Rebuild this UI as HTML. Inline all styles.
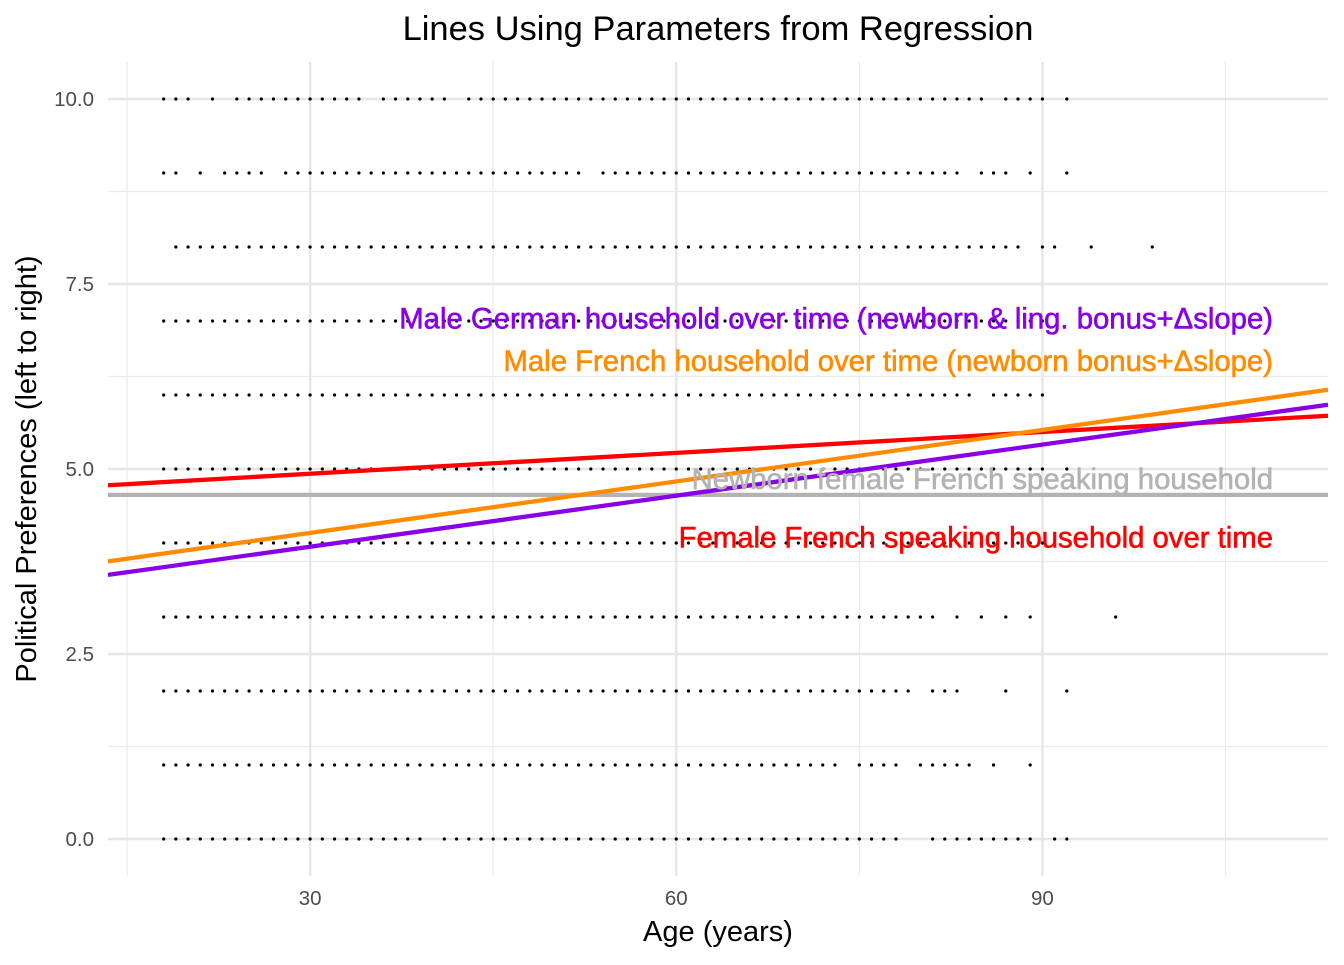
<!DOCTYPE html>
<html><head><meta charset="utf-8"><style>
body{margin:0;background:#fff}
svg text{font-family:"Liberation Sans",Arial,sans-serif}
</style></head><body>
<svg id="chart" width="1344" height="960" viewBox="0 0 1344 960" xmlns="http://www.w3.org/2000/svg">
<text x="718" y="40" text-anchor="middle" font-size="34.5" fill="#000">Lines Using Parameters from Regression</text>
<g id="grid"></g>
<g id="dots"></g>
<g id="lines"></g>
<g id="labels"></g>
<g id="axes"></g>
<text x="718" y="941" text-anchor="middle" font-size="29" fill="#000">Age (years)</text>
<text transform="translate(36,469) rotate(-90)" text-anchor="middle" font-size="29" fill="#000">Political Preferences (left to right)</text>
</svg>
<script>
const xTicks=[30,60,90];
const xMinor=[15,45,75,105];
const yTicks=[0,2.5,5,7.5,10];
const yTickLabels=["0.0","2.5","5.0","7.5","10.0"];
const yMinor=[1.25,3.75,6.25,8.75];
const prefLevels=[10,9,8,7,6,5,4,3,2,1,0];
const ageRanges=[
 [[18,20],[22,22],[24,34],[36,41],[43,85],[87,90],[92,92]],
 [[18,19],[21,21],[23,26],[28,52],[54,83],[85,87],[89,89],[92,92]],
 [[19,88],[90,91],[94,94],[99,99]],
 [[18,90]],
 [[18,84],[86,90]],
 [[18,90],[92,92]],
 [[18,90]],
 [[18,81],[83,83],[85,85],[87,87],[89,89],[96,96]],
 [[18,79],[81,83],[87,87],[92,92]],
 [[18,73],[75,78],[80,84],[86,86],[89,89]],
 [[18,39],[41,78],[81,89],[91,92]]
];
const lineNames=["newborn","female-french","male-french","male-german"];
const intercepts=[4.65,4.654,3.44,3.26];
const slopes=[0,0.0094,0.0232,0.023];
const lineColors=["#b3b3b3","#ff0000","#ff8c00","#8a00e6"];
const labelTexts=["Newborn female French speaking household","Female French speaking household over time","Male French household over time (newborn bonus+Δslope)","Male German household over time (newborn & ling. bonus+Δslope)"];
const labelY=[4.84,4.05,6.43,7.01];

const X0=13.44,X1=113.4,PX0=108,PX1=1328;
const xs=v=>PX0+(v-X0)*(PX1-PX0)/(X1-X0);
const ys=v=>839-74*v;
const NS="http://www.w3.org/2000/svg";
function mk(t,a,p){const e=document.createElementNS(NS,t);for(const k in a)e.setAttribute(k,a[k]);p.appendChild(e);return e;}
const grid=document.getElementById('grid'),axes=document.getElementById('axes');
yMinor.forEach(v=>{const l=mk('line',{x1:PX0,x2:PX1,y1:ys(v),y2:ys(v),stroke:'#ebebeb','stroke-width':1.2},grid);

});
xMinor.forEach(v=>{const l=mk('line',{x1:xs(v),x2:xs(v),y1:62,y2:876,stroke:'#ebebeb','stroke-width':1.2},grid);

});
yTicks.forEach((v,i)=>{const l=mk('line',{x1:PX0,x2:PX1,y1:ys(v),y2:ys(v),stroke:'#e6e6e6','stroke-width':2.4},grid);


const t=mk('text',{x:94,y:ys(v)+7,'text-anchor':'end','font-size':20.5,fill:'#4d4d4d'},axes);t.textContent=yTickLabels[i];

});
xTicks.forEach(v=>{const l=mk('line',{x1:xs(v),x2:xs(v),y1:62,y2:876,stroke:'#e6e6e6','stroke-width':2.4},grid);


const t=mk('text',{x:xs(v),y:905,'text-anchor':'middle','font-size':20.5,fill:'#4d4d4d'},axes);t.textContent=v;

});
const dots=document.getElementById('dots');
prefLevels.forEach((p,i)=>{ageRanges[i].forEach(r=>{for(let a=r[0];a<=r[1];a++){const c=mk('circle',{cx:xs(a),cy:ys(p),r:1.6,fill:'#000'},dots);

}});});
const lines=document.getElementById('lines'),labels=document.getElementById('labels');
lineNames.forEach((n,i)=>{const l=mk('line',{x1:xs(X0),x2:xs(X1),y1:ys(intercepts[i]+slopes[i]*X0),y2:ys(intercepts[i]+slopes[i]*X1),stroke:lineColors[i],'stroke-width':4.3},lines);

});
lineNames.forEach((n,i)=>{const t=mk('text',{x:1273,y:ys(labelY[i])+8,'text-anchor':'end','font-size':29.3,fill:lineColors[i],stroke:lineColors[i],'stroke-width':0.6},labels);t.textContent=labelTexts[i];

});
</script>
</body></html>
